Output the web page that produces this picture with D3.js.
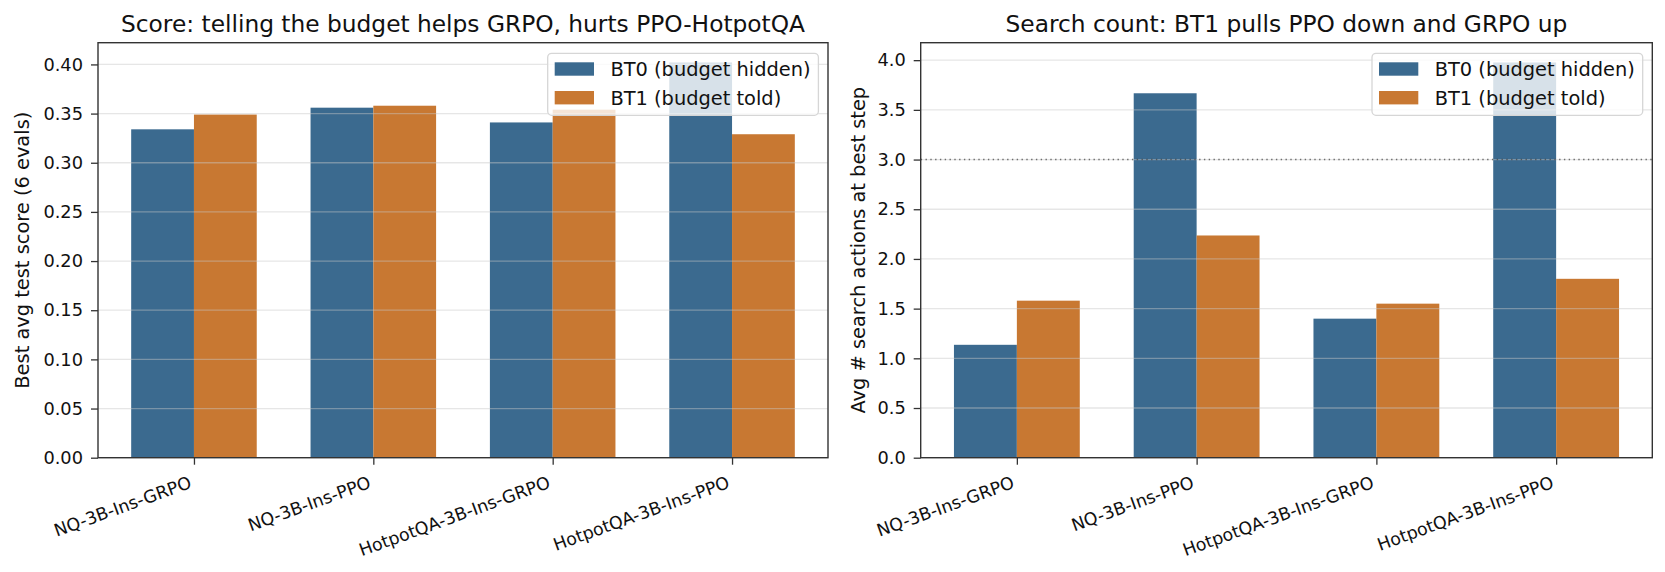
<!DOCTYPE html>
<html>
<head>
<meta charset="utf-8">
<script src="https://cdn.jsdelivr.net/npm/d3@7"></script>
<style>
  html, body { margin: 0; padding: 0; background: #fff; }
  svg { display: block; font-family: "DejaVu Sans", sans-serif; }
</style>
</head>
<body>
<svg id="chart" width="1665" height="572"></svg>
<script>
// ---- data ----
const categories = ["NQ-3B-Ins-GRPO", "NQ-3B-Ins-PPO", "HotpotQA-3B-Ins-GRPO", "HotpotQA-3B-Ins-PPO"];
const seriesNames = ["BT0 (budget hidden)", "BT1 (budget told)"];
const scoreBT0 = [0.334, 0.356, 0.341, 0.402];
const scoreBT1 = [0.349, 0.358, 0.354, 0.329];
const searchBT0 = [1.136, 3.667, 1.399, 3.977];
const searchBT1 = [1.580, 2.236, 1.550, 1.800];
const scoreTicks = [0.00, 0.05, 0.10, 0.15, 0.20, 0.25, 0.30, 0.35, 0.40];
const searchTicks = [0.0, 0.5, 1.0, 1.5, 2.0, 2.5, 3.0, 3.5, 4.0];
const budgetLine = 3.0;

const colors = ["#3b6a8f", "#c87832"];
const svg = d3.select("#chart");

function panel(opts) {
  const {left, right, top, bottom, title, ylabel, s0, s1, ticks, fmt, ylabelX, hline} = opts;
  const g = svg.append("g");
  const all = s0.concat(s1);
  const ymax = d3.max(all) * 1.05;
  const y = d3.scaleLinear().domain([0, ymax]).range([bottom, top]);
  const barW = 0.35;
  const x = d3.scaleLinear().domain([-0.535, categories.length - 1 + 0.535]).range([left, right]);

  // bars
  const series = [s0, s1];
  series.forEach((s, si) => {
    g.append("g").selectAll("rect").data(s).join("rect")
      .attr("x", (d, i) => x(i - barW + si * barW))
      .attr("width", (d, i) => x(i + barW) - x(i))
      .attr("y", d => y(d))
      .attr("height", d => y(0) - y(d))
      .attr("fill", colors[si]);
  });

  // grid on top (semi-transparent)
  g.append("g").selectAll("line").data(ticks).join("line")
    .attr("x1", left).attr("x2", right)
    .attr("y1", d => y(d)).attr("y2", d => y(d))
    .attr("stroke", "#c8c8c8").attr("stroke-opacity", 0.45).attr("stroke-width", 1.3);

  if (hline !== undefined) {
    g.append("line")
      .attr("x1", left).attr("x2", right)
      .attr("y1", y(hline)).attr("y2", y(hline))
      .attr("stroke", "#444").attr("stroke-opacity", 0.75)
      .attr("stroke-width", 1.4).attr("stroke-dasharray", "1.4,3.4");
  }

  // y axis
  const yAxis = d3.axisLeft(y).tickValues(ticks).tickFormat(fmt).tickSize(7).tickPadding(8);
  const ya = g.append("g").attr("transform", `translate(${left},0)`).call(yAxis);
  ya.select(".domain").remove();
  ya.selectAll(".tick line").attr("stroke", "#333").attr("stroke-width", 1.3);
  ya.selectAll(".tick text").attr("font-size", 17.8).attr("fill", "#111")
    .attr("font-family", "DejaVu Sans");

  // x axis
  const xAxis = d3.axisBottom(x).tickValues(d3.range(categories.length))
    .tickFormat(i => categories[i]).tickSize(7);
  const xa = g.append("g").attr("transform", `translate(0,${bottom})`).call(xAxis);
  xa.select(".domain").remove();
  xa.selectAll(".tick line").attr("stroke", "#333").attr("stroke-width", 1.3);
  xa.selectAll(".tick text")
    .attr("font-size", 17.4).attr("fill", "#111").attr("font-family", "DejaVu Sans")
    .attr("text-anchor", "end")
    .attr("x", -2).attr("y", 0).attr("dy", 0)
    .attr("transform", "translate(0,29) rotate(-20)");

  // spines
  g.append("rect").attr("x", left).attr("y", top)
    .attr("width", right - left).attr("height", bottom - top)
    .attr("fill", "none").attr("stroke", "#333").attr("stroke-width", 1.4);

  // title
  g.append("text").attr("x", (left + right) / 2).attr("y", 32)
    .attr("text-anchor", "middle").attr("font-size", 23.3).attr("fill", "#111")
    .text(title);

  // y label
  g.append("text")
    .attr("transform", `translate(${ylabelX},${(top + bottom) / 2}) rotate(-90)`)
    .attr("text-anchor", "middle").attr("dominant-baseline", "middle")
    .attr("font-size", 19.4).attr("fill", "#111")
    .text(ylabel);

  // legend
  const lw = 270.7, lh = 62;
  const lx = right - 9.6 - lw, ly = top + 10.6;
  const leg = g.append("g");
  leg.append("rect").attr("x", lx).attr("y", ly).attr("width", lw).attr("height", lh)
    .attr("rx", 4).attr("fill", "#fff").attr("fill-opacity", 0.8)
    .attr("stroke", "#d6d6d6").attr("stroke-width", 1.3);
  seriesNames.forEach((n, i) => {
    const cy = ly + 15.7 + i * 28.7;
    leg.append("rect").attr("x", lx + 7).attr("y", cy - 6.7).attr("width", 39.3).attr("height", 13.4)
      .attr("fill", colors[i]);
    leg.append("text").attr("x", lx + 62.7).attr("y", cy + 7)
      .attr("font-size", 19.4).attr("fill", "#111").text(n);
  });
}

panel({left: 98, right: 828, top: 42.7, bottom: 457.7,
  title: "Score: telling the budget helps GRPO, hurts PPO-HotpotQA",
  ylabel: "Best avg test score (6 evals)",
  s0: scoreBT0, s1: scoreBT1, ticks: scoreTicks, fmt: d3.format(".2f"), ylabelX: 23});

panel({left: 920.7, right: 1652.3, top: 42.7, bottom: 457.7,
  title: "Search count: BT1 pulls PPO down and GRPO up",
  ylabel: "Avg # search actions at best step",
  s0: searchBT0, s1: searchBT1, ticks: searchTicks, fmt: d3.format(".1f"), ylabelX: 859,
  hline: budgetLine});
</script>
</body>
</html>
